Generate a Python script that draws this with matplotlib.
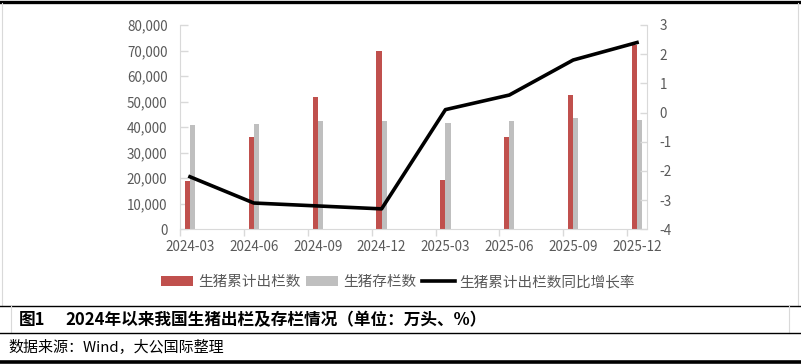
import numpy as np
import matplotlib
matplotlib.use("Agg")
import matplotlib.pyplot as plt
from matplotlib.lines import Line2D
from matplotlib.ticker import StrMethodFormatter, FixedLocator

plt.rcParams['font.family'] = ['Noto Sans CJK SC', 'DejaVu Sans']
plt.rcParams['axes.unicode_minus'] = False

# 数据（万头、%）
dates = ['2024-03', '2024-06', '2024-09', '2024-12',
         '2025-03', '2025-06', '2025-09', '2025-12']
slaughter = [19000, 36200, 51900, 69900, 19500, 36200, 52700, 72300]  # 生猪累计出栏数
inventory = [41000, 41300, 42400, 42400, 41700, 42400, 43600, 42900]  # 生猪存栏数
yoy = [-2.2, -3.1, -3.2, -3.3, 0.1, 0.6, 1.8, 2.4]  # 生猪累计出栏数同比增长率

RED = '#C0504D'
GREY = '#BFBFBF'
AXC = '#D9D9D9'
TXT = '#595959'

W, H = 801, 364
fig = plt.figure(figsize=(W / 100, H / 100), dpi=100)

# 绘图区
ax = fig.add_axes([180 / W, 1 - 229.3 / H, (647 - 180) / W, (229.3 - 25) / H])
x = np.arange(len(dates))
bw = 0.08
b1 = ax.bar(x - bw / 2, slaughter, width=bw, color=RED, label='生猪累计出栏数', zorder=2)
b2 = ax.bar(x + bw / 2, inventory, width=bw, color=GREY, label='生猪存栏数', zorder=2)
ax.set_xlim(-0.156, 7.156)
ax.set_ylim(0, 80000)
ax.set_yticks(np.arange(0, 80001, 10000))
ax.yaxis.set_major_formatter(StrMethodFormatter('{x:,.0f}'))
ax.set_xticks(x)
ax.set_xticklabels(dates)
ax.xaxis.set_minor_locator(FixedLocator(x - 0.155))
ax.tick_params(axis='x', which='major', length=0, pad=8, labelsize=9.7, labelcolor=TXT)
ax.tick_params(axis='x', which='minor', length=5, direction='out', color=AXC, width=1)
ax.tick_params(axis='y', direction='in', length=6, color=AXC, width=1, pad=9,
               labelsize=9.7, labelcolor=TXT)
for s in ['top', 'right']:
    ax.spines[s].set_visible(False)
for s in ['left', 'bottom']:
    ax.spines[s].set_color(AXC)

ax2 = ax.twinx()
l1, = ax2.plot(x, yoy, color='black', lw=2.6, label='生猪累计出栏数同比增长率',
               solid_joinstyle='round', zorder=3)
ax2.set_ylim(-4, 3)
ax2.set_yticks(np.arange(-4, 4, 1))
ax2.tick_params(axis='y', direction='in', length=5, color=AXC, width=1, pad=9,
                labelsize=9.7, labelcolor=TXT)
for s in ['top', 'left', 'bottom']:
    ax2.spines[s].set_visible(False)
ax2.spines['right'].set_color(AXC)

# 图例
fig.legend(handles=[b1, b2, l1], loc='center', ncol=3, frameon=False,
           bbox_to_anchor=(398 / W, 1 - 282 / H), fontsize=10.5,
           handlelength=2.2, handletextpad=0.35, columnspacing=0.4,
           labelcolor=TXT, borderpad=0)


# 边框
def hline(y, x0, x1, lw, color='black'):
    fig.add_artist(Line2D([x0 / W, x1 / W], [1 - y / H, 1 - y / H], lw=lw, color=color))


def vline(xp, y0, y1, lw, color=AXC):
    fig.add_artist(Line2D([xp / W, xp / W], [1 - y0 / H, 1 - y1 / H], lw=lw, color=color))


hline(1.5, 0, W, 2.4)
vline(2, 3, 306, 0.8)
vline(798, 3, 306, 0.8)
hline(306, 0, W, 1.0)
vline(11, 306, 333, 0.8)
vline(789, 306, 333, 0.8)
hline(333, 0, W, 1.0)
hline(362, 0, W, 2.6)

fig.text(19 / W, 1 - 320 / H, '图1', fontsize=12, fontweight='bold', va='center', ha='left')
fig.text(65 / W, 1 - 320 / H, '2024年以来我国生猪出栏及存栏情况（单位：万头、%）',
         fontsize=12, fontweight='bold', va='center', ha='left')
fig.text(8 / W, 1 - 347 / H, '数据来源：Wind，大公国际整理', fontsize=10.8,
         va='center', ha='left')

fig.savefig('out.png', dpi=100)
